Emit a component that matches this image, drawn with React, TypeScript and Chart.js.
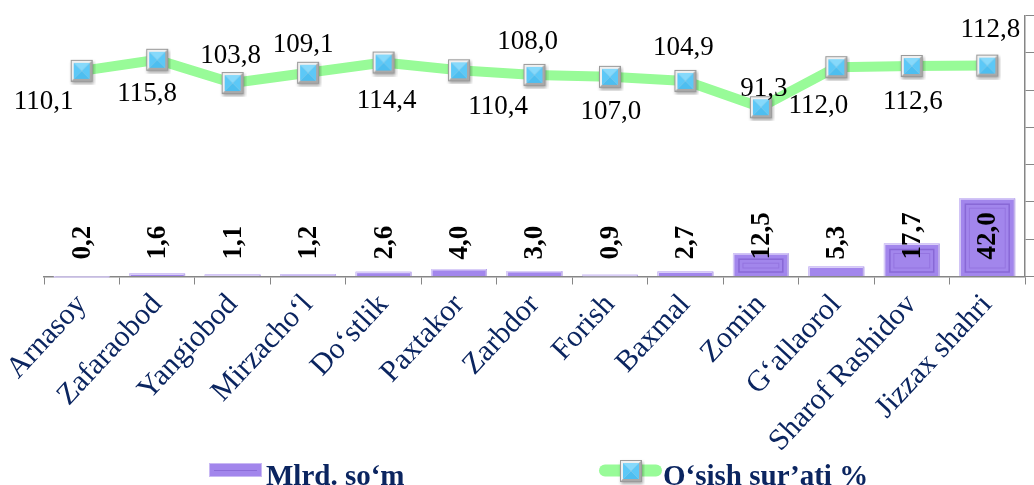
import React, { useEffect, useRef } from 'react';
import { Chart, registerables } from 'chart.js';

Chart.register(...registerables);

const categories = [
  'Arnasoy', 'Zafaraobod', 'Yangiobod', 'Mirzacho‘l', 'Do‘stlik', 'Paxtakor', 'Zarbdor',
  'Forish', 'Baxmal', 'Zomin', 'G‘allaorol', 'Sharof Rashidov', 'Jizzax shahri',
];
const amountValues = [0.2, 1.6, 1.1, 1.2, 2.6, 4.0, 3.0, 0.9, 2.7, 12.5, 5.3, 17.7, 42.0];
const growthValues = [110.1, 115.8, 103.8, 109.1, 114.4, 110.4, 108.0, 107.0, 104.9, 91.3, 112.0, 112.6, 112.8];
const seriesNames = ['Mlrd. so‘m', 'O‘sish sur’ati %'];

// label placement offsets (style) for the growth-rate labels
const growthLabelDX = [-38, -10, -2, -5, 3, 39, -7, 1, -2, 3, -18, 1, 3];
const growthLabelDY = [31, 34, -27, -28, 38, 37, -33, 35, -33, -18, 39, 36, -36];

const SERIF = "'Liberation Serif', 'Times New Roman', serif";
const NAVY = '#0B2560';
const BAR_FILL = '#A286EC';
const LINE_COLOR = '#98FB98';

const fmt = (v: number) => v.toFixed(1).replace('.', ',');

function makeMarker(): HTMLCanvasElement {
  const c = document.createElement('canvas');
  c.width = 28;
  c.height = 28;
  const g = c.getContext('2d')!;
  g.save();
  g.shadowColor = 'rgba(0,0,0,0.35)';
  g.shadowBlur = 3;
  g.shadowOffsetY = 2;
  g.shadowOffsetX = 1;
  g.fillStyle = '#CFCFCF';
  g.fillRect(3, 3, 22, 22);
  g.restore();
  g.fillStyle = '#EFEFEF';
  g.beginPath(); g.moveTo(3, 3); g.lineTo(25, 3); g.lineTo(22, 6); g.lineTo(6, 6); g.lineTo(6, 22); g.lineTo(3, 25); g.closePath(); g.fill();
  g.fillStyle = '#A9A9A9';
  g.beginPath(); g.moveTo(25, 25); g.lineTo(3, 25); g.lineTo(6, 22); g.lineTo(22, 22); g.lineTo(22, 6); g.lineTo(25, 3); g.closePath(); g.fill();
  g.strokeStyle = '#9A9A9A';
  g.lineWidth = 1;
  g.strokeRect(3.5, 3.5, 21, 21);
  const tri = (pts: number[][], col: string) => {
    g.fillStyle = col;
    g.beginPath();
    g.moveTo(pts[0][0], pts[0][1]);
    for (let i = 1; i < pts.length; i++) g.lineTo(pts[i][0], pts[i][1]);
    g.closePath();
    g.fill();
  };
  tri([[6, 6], [22, 6], [14, 14]], '#86D9FB');
  tri([[6, 22], [22, 22], [14, 14]], '#4DBEF0');
  tri([[6, 6], [6, 22], [14, 14]], '#5CC8F7');
  tri([[22, 6], [22, 22], [14, 14]], '#5CC8F7');
  return c;
}

export default function App() {
  const ref = useRef<HTMLCanvasElement>(null);

  useEffect(() => {
    document.body.style.margin = '0';
    const canvas = ref.current;
    if (!canvas) return;
    const marker = makeMarker();

    const barBevel = {
      id: 'barBevel',
      afterDatasetDraw(chart: any, args: any) {
        const ds = chart.data.datasets[args.index];
        if (ds.type !== 'bar') return;
        const ctx = chart.ctx;
        const meta = chart.getDatasetMeta(args.index);
        meta.data.forEach((el: any) => {
          const { x, y, base, width } = el.getProps(['x', 'y', 'base', 'width'], true);
          const l = x - width / 2;
          const r = x + width / 2;
          const h = base - y;
          ctx.save();
          ctx.lineWidth = 1.5;
          ctx.strokeStyle = '#D9CEF8';
          ctx.beginPath();
          ctx.moveTo(l + 0.75, base);
          ctx.lineTo(l + 0.75, y + 0.75);
          ctx.lineTo(r - 0.75, y + 0.75);
          ctx.stroke();
          ctx.strokeStyle = '#C4B6EA';
          ctx.beginPath();
          ctx.moveTo(r - 0.75, y + 0.75);
          ctx.lineTo(r - 0.75, base);
          ctx.stroke();
          if (h > 16) {
            ctx.lineWidth = 1.5;
            ctx.strokeStyle = '#8868D6';
            ctx.strokeRect(l + 6, y + 6, width - 12, h - 10);
            ctx.lineWidth = 1;
            ctx.strokeStyle = '#9474E0';
            ctx.strokeRect(l + 10, y + 10, width - 20, h - 18);
          }
          ctx.restore();
        });
      },
    };

    const labelsPlugin = {
      id: 'valueLabels',
      afterDatasetsDraw(chart: any) {
        const ctx = chart.ctx;
        const yScale = chart.scales.y;
        chart.data.datasets.forEach((ds: any, di: number) => {
          const meta = chart.getDatasetMeta(di);
          if (ds.type === 'bar') {
            const baseY = yScale.getPixelForValue(0) - 17;
            meta.data.forEach((el: any, i: number) => {
              ctx.save();
              ctx.translate(el.x, baseY);
              ctx.rotate(-Math.PI / 2);
              ctx.font = `bold 27px ${SERIF}`;
              ctx.fillStyle = '#000000';
              ctx.textAlign = 'left';
              ctx.textBaseline = 'middle';
              ctx.fillText(fmt(ds.data[i]), 0, 1);
              ctx.restore();
            });
          } else {
            meta.data.forEach((el: any, i: number) => {
              ctx.save();
              ctx.font = `27px ${SERIF}`;
              ctx.fillStyle = '#000000';
              ctx.textAlign = 'center';
              ctx.textBaseline = 'middle';
              ctx.fillText(fmt(ds.data[i]), el.x + growthLabelDX[i], el.y + growthLabelDY[i]);
              ctx.restore();
            });
          }
        });
      },
    };

    const legendPlugin = {
      id: 'customLegend',
      afterDraw(chart: any) {
        const ctx = chart.ctx;
        ctx.save();
        ctx.fillStyle = BAR_FILL;
        ctx.fillRect(209, 463, 53, 14);
        ctx.strokeStyle = '#C9B9F4';
        ctx.lineWidth = 1;
        ctx.strokeRect(209.5, 463.5, 52, 13);
        ctx.strokeStyle = '#8B6CD8';
        ctx.beginPath();
        ctx.moveTo(214, 470.5);
        ctx.lineTo(257, 470.5);
        ctx.stroke();
        ctx.font = `bold 29px ${SERIF}`;
        ctx.fillStyle = NAVY;
        ctx.textAlign = 'left';
        ctx.textBaseline = 'alphabetic';
        ctx.fillText(seriesNames[0], 266, 485);
        ctx.strokeStyle = LINE_COLOR;
        ctx.lineWidth = 12;
        ctx.lineCap = 'round';
        ctx.beginPath();
        ctx.moveTo(605, 470.5);
        ctx.lineTo(656, 470.5);
        ctx.stroke();
        ctx.drawImage(marker, 631 - 14, 471 - 14);
        ctx.fillText(seriesNames[1], 663, 485);
        ctx.restore();
      },
    };

    const chart = new Chart(canvas, {
      data: {
        labels: categories,
        datasets: [
          {
            type: 'line',
            label: seriesNames[1],
            data: growthValues,
            yAxisID: 'y2',
            borderColor: LINE_COLOR,
            backgroundColor: LINE_COLOR,
            borderWidth: 10,
            borderJoinStyle: 'round',
            tension: 0,
            pointStyle: marker as any,
            pointRadius: 11,
            order: 0,
          } as any,
          {
            type: 'bar',
            label: seriesNames[0],
            data: amountValues,
            yAxisID: 'y',
            backgroundColor: BAR_FILL,
            borderWidth: 0,
            barPercentage: 0.74,
            categoryPercentage: 1,
            order: 1,
          } as any,
        ],
      },
      options: {
        animation: false,
        responsive: false,
        maintainAspectRatio: false,
        events: [],
        layout: { autoPadding: false, padding: { left: 44, top: 15.5, right: 0, bottom: 0 } },
        plugins: {
          legend: { display: false },
          tooltip: { enabled: false },
        },
        scales: {
          x: {
            offset: true,
            grid: { drawOnChartArea: false, drawTicks: true, tickLength: 8, color: '#868686', offset: true },
            border: { color: '#868686', width: 1.5 },
            ticks: {
              autoSkip: false,
              maxRotation: 47,
              minRotation: 47,
              color: NAVY,
              font: { family: SERIF, size: 30 },
              padding: 3,
            },
            afterFit(s: any) {
              s.height = 208.5;
              s.paddingLeft = 0;
              s.paddingRight = 0;
            },
          },
          y: {
            position: 'right',
            min: 0,
            max: 140,
            ticks: { stepSize: 20, display: false },
            grid: { drawOnChartArea: false, drawTicks: true, tickLength: 9, color: '#868686' },
            border: { color: '#868686', width: 1.5 },
            afterFit(s: any) {
              s.width = 9;
            },
          },
          y2: {
            display: false,
            min: 3.8,
            max: 138.7,
          },
        },
      } as any,
      plugins: [barBevel, labelsPlugin, legendPlugin],
    });

    return () => chart.destroy();
  }, []);

  return (
    <div style={{ width: 1034, height: 485, background: '#ffffff' }}>
      <canvas ref={ref} width={1034} height={485} style={{ display: 'block' }} />
    </div>
  );
}
